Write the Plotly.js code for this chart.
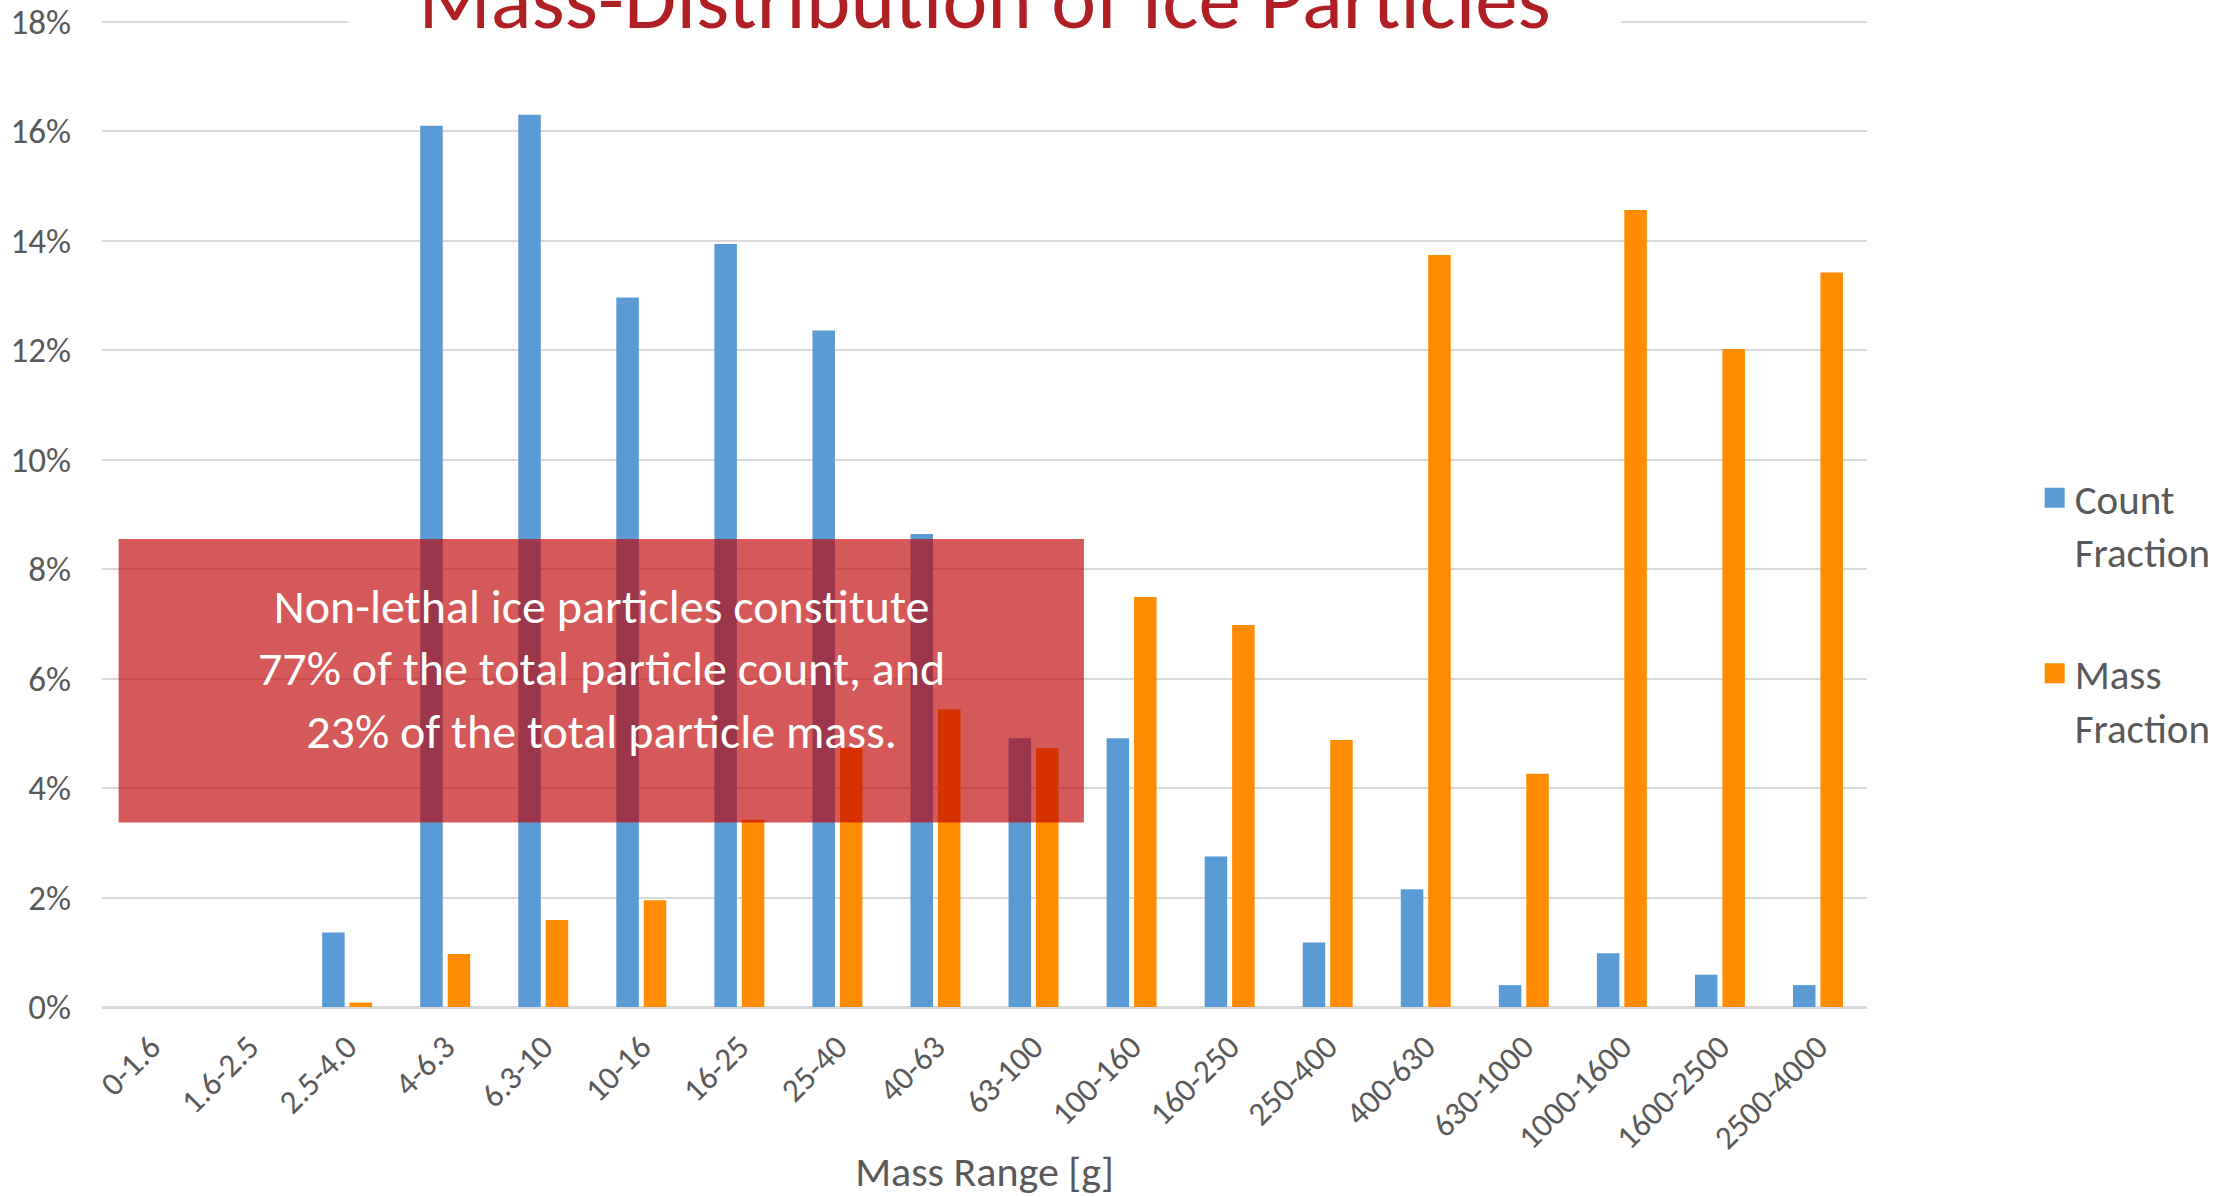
<!DOCTYPE html>
<html>
<head>
<meta charset="utf-8">
<script src="https://cdn.plot.ly/plotly-3.0.1.min.js"></script>
<style>
html,body{margin:0;padding:0;background:#fff;}
#chart{width:2233px;height:1197px;}
</style>
</head>
<body>
<div id="chart"></div>
<script>
const massRanges = ["0-1.6","1.6-2.5","2.5-4.0","4-6.3","6.3-10","10-16","16-25","25-40","40-63","63-100","100-160","160-250","250-400","400-630","630-1000","1000-1600","1600-2500","2500-4000"];
const countFraction = [0, 0, 1.36, 16.1, 16.3, 12.96, 13.94, 12.36, 8.64, 4.91, 4.91, 2.75, 1.18, 2.15, 0.4, 0.98, 0.59, 0.4];
const massFraction = [0, 0, 0.08, 0.97, 1.59, 1.95, 3.42, 4.74, 5.44, 4.73, 7.49, 6.98, 4.88, 13.74, 4.26, 14.56, 12.02, 13.42];
const yTicks = [0, 2, 4, 6, 8, 10, 12, 14, 16, 18];
const yTickText = ["0%", "2%", "4%", "6%", "8%", "10%", "12%", "14%", "16%", "18%"];

const FONT = "Carlito, Lato, 'Open Sans', sans-serif";
const GREY = "#595959";

const traces = [
  {type: "bar", name: "Count<br>Fraction", x: massRanges, y: countFraction,
   marker: {color: "#5B9BD5"}, legendgroup: "a"},
  {type: "bar", name: "Mass<br>Fraction", x: massRanges, y: massFraction,
   marker: {color: "#FF8C00"}, legendgroup: "b"}
];

const layout = {
  width: 2233, height: 1197,
  paper_bgcolor: "#fff", plot_bgcolor: "#fff",
  margin: {l: 102, r: 366, t: 19, b: 190},
  barmode: "group", bargap: 0.44, bargroupgap: 0.18,
  font: {family: FONT, color: GREY},
  title: {text: "Mass-Distribution of Ice Particles", font: {family: FONT, size: 85, color: "#B01F24"},
          xref: "paper", x: 0.5, xanchor: "center", yref: "container", y: 1 - 28/1197, yanchor: "bottom"},
  xaxis: {type: "category", tickangle: -45, tickfont: {size: 33, color: GREY},
          showgrid: false, zeroline: false, showline: false, ticks: "", ticklabelstandoff: 13,
          title: {text: "Mass Range [g]", font: {size: 42, color: GREY}, standoff: 10}},
  yaxis: {range: [0, 18.05], tickmode: "array", tickvals: yTicks, ticktext: yTickText,
          tickfont: {size: 35, color: GREY},
          showgrid: true, gridcolor: "#D9D9D9", gridwidth: 2, zeroline: true, zerolinecolor: "#D9D9D9",
          zerolinewidth: 3, showline: false, ticks: "", ticklabelstandoff: 30},
  legend: {x: 1.095, xanchor: "left", y: 0.549, yanchor: "top", font: {size: 41, color: GREY},
           valign: "top", traceorder: "grouped", tracegroupgap: 66, bgcolor: "rgba(0,0,0,0)"},
  shapes: [
    {type: "rect", layer: "above", xref: "paper", yref: "y", x0: 0.1397, x1: 0.8606, y0: 17.85, y1: 18.05,
     fillcolor: "#fff", line: {width: 0}},
    {type: "rect", layer: "above", xref: "paper", yref: "paper", x0: 0.0094, x1: 0.5563, y0: 0.1867, y1: 0.4738,
     fillcolor: "rgba(192,0,0,0.65)", line: {width: 0}}
  ],
  annotations: [
    {text: "Non-lethal ice particles constitute<br>77% of the total particle count, and<br>23% of the total particle mass.",
     xref: "paper", yref: "paper", x: 0.2828, y: 0.342, xanchor: "center", yanchor: "middle",
     showarrow: false, align: "center", font: {family: FONT, size: 48, color: "#fff"}}
  ]
};

Plotly.newPlot("chart", traces, layout, {displayModeBar: false, staticPlot: true}).then(function(gd){
  // enlarge the legend colour squares to match the reference swatch size
  gd.querySelectorAll(".legend .legendpoints path").forEach(function(p){
    p.setAttribute("d", "M10,10H-10V-10H10Z");
  });
});
</script>
</body>
</html>
